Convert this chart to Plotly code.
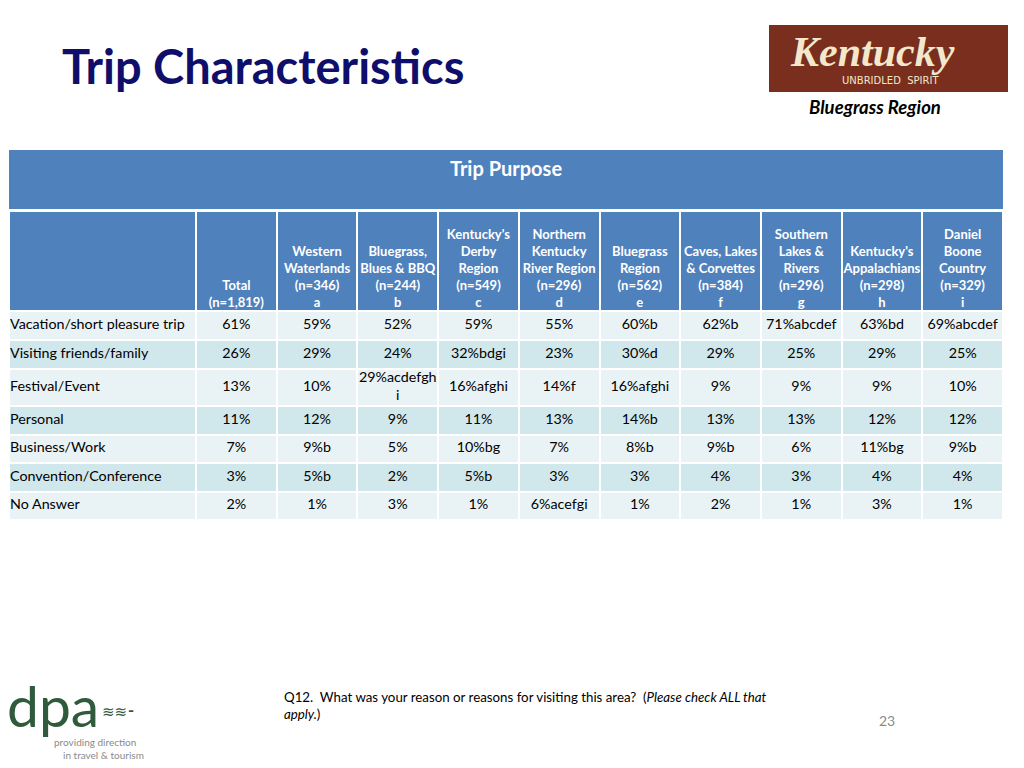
import plotly.graph_objects as go

W, H = 1024, 768

# ---- data ----
purposes = ["Vacation/short pleasure trip", "Visiting friends/family", "Festival/Event",
            "Personal", "Business/Work", "Convention/Conference", "No Answer"]

header_names = [
    ["Total"],
    ["Western", "Waterlands"],
    ["Bluegrass,", "Blues & BBQ"],
    ["Kentucky's", "Derby", "Region"],
    ["Northern", "Kentucky", "River Region"],
    ["Bluegrass", "Region"],
    ["Caves, Lakes", "& Corvettes"],
    ["Southern", "Lakes &", "Rivers"],
    ["Kentucky's", "Appalachians"],
    ["Daniel", "Boone", "Country"],
]
sample_sizes = ["1,819", "346", "244", "549", "296", "562", "384", "296", "298", "329"]
group_letters = ["", "a", "b", "c", "d", "e", "f", "g", "h", "i"]

total = [61, 26, 13, 11, 7, 3, 2]
western = [59, 29, 10, 12, 9, 5, 1]
bluegrass_bbq = [52, 24, 29, 9, 5, 2, 3]
derby = [59, 32, 16, 11, 10, 5, 1]
northern_ky = [55, 23, 14, 13, 7, 3, 6]
bluegrass_region = [60, 30, 16, 14, 8, 3, 1]
caves_lakes = [62, 29, 9, 13, 9, 4, 2]
southern_lakes = [71, 25, 9, 13, 6, 3, 1]
appalachians = [63, 29, 9, 12, 11, 4, 3]
daniel_boone = [69, 25, 10, 12, 9, 4, 1]

# significance letters per column
sig_total = ["", "", "", "", "", "", ""]
sig_western = ["", "", "", "", "b", "b", ""]
sig_bluegrass_bbq = ["", "", "acdefghi", "", "", "", ""]
sig_derby = ["", "bdgi", "afghi", "", "bg", "b", ""]
sig_northern_ky = ["", "", "f", "", "", "", "acefgi"]
sig_bluegrass_region = ["b", "d", "afghi", "b", "b", "", ""]
sig_caves_lakes = ["b", "", "", "", "b", "", ""]
sig_southern_lakes = ["abcdef", "", "", "", "", "", ""]
sig_appalachians = ["bd", "", "", "", "bg", "", ""]
sig_daniel_boone = ["abcdef", "", "", "", "b", "", ""]

values = [total, western, bluegrass_bbq, derby, northern_ky, bluegrass_region,
          caves_lakes, southern_lakes, appalachians, daniel_boone]
sigs = [sig_total, sig_western, sig_bluegrass_bbq, sig_derby, sig_northern_ky,
        sig_bluegrass_region, sig_caves_lakes, sig_southern_lakes, sig_appalachians,
        sig_daniel_boone]

# ---- table geometry (page pixels) ----
label_w = 187
col_w = (1003 - 196) / len(values)
x_edges = [9, 9 + label_w] + [196 + col_w * (i + 1) for i in range(len(values))]
x_centers = [(a + b) / 2 for a, b in zip(x_edges[1:-1], x_edges[2:])]
row_h = [29.5, 28.5, 37.5, 28.5, 28.5, 28.5, 28.5]
y_edges = [211, 310.5]
for h in row_h:
    y_edges.append(y_edges[-1] + h)
y_centers = [(a + b) / 2 for a, b in zip(y_edges[1:-1], y_edges[2:])]

blue, light, dark = "#4F81BD", "#E9F3F5", "#D0E7EC"
font_family = "Lato, 'Open Sans', sans-serif"


def cell_text(v, s):
    t = f"{v}%{s}"
    if len(t) > 10:
        t = t[:10] + "<br>" + t[10:]
    return t


fig = go.Figure()

# cell fills: 0 = header blue, 1 = light row, 2 = dark row
z = [[0] * (len(values) + 1)] + [[1 + i % 2] * (len(values) + 1) for i in range(len(purposes))]
scale = [[0, blue], [0.5, light], [1, dark]]
fig.add_trace(go.Heatmap(x=[9, 1003], y=[150, 208.5], z=[[0]], colorscale=scale, zmin=0, zmax=2,
                         showscale=False, hoverinfo="skip"))
fig.add_trace(go.Heatmap(x=x_edges, y=y_edges, z=z, colorscale=scale, zmin=0, zmax=2,
                         xgap=2, ygap=2, showscale=False, hoverinfo="skip"))

fig.add_trace(go.Scatter(x=[506], y=[170.5], mode="text", text=["<b>Trip Purpose</b>"],
                         textposition="middle center", hoverinfo="skip",
                         textfont=dict(size=20, color="white", family=font_family)))

headers = []
for names, n, letter in zip(header_names, sample_sizes, group_letters):
    lines = names + [f"(n={n})"] + ([letter] if letter else [])
    headers.append("<br>".join(f"<b>{l}</b>" for l in lines))
fig.add_trace(go.Scatter(x=x_centers, y=[310] * len(headers), mode="text", text=headers,
                         textposition="top center", hoverinfo="skip",
                         textfont=dict(size=13, color="white", family=font_family)))

fig.add_trace(go.Scatter(x=[10] * len(purposes), y=y_centers, mode="text", text=purposes,
                         textposition="middle right", hoverinfo="skip",
                         textfont=dict(size=14.3, color="black", family=font_family)))

cx, cy, ct = [], [], []
for xc, col, sg in zip(x_centers, values, sigs):
    for yc, v, s in zip(y_centers, col, sg):
        cx.append(xc)
        cy.append(yc)
        ct.append(cell_text(v, s))
fig.add_trace(go.Scatter(x=cx, y=cy, mode="text", text=ct, textposition="middle center",
                         hoverinfo="skip",
                         textfont=dict(size=14.3, color="black", family=font_family)))

shapes = [
    # Kentucky logo panel
    dict(type="rect", xref="x", yref="y", x0=769, x1=1008, y0=25, y1=92,
         fillcolor="#7A2E1D", line=dict(width=0), layer="below"),
]

annotations = [
    dict(text="<b>Trip Characteristics</b>", x=60, y=66, xanchor="left", yanchor="middle",
         font=dict(size=47, color="#0F0F6B", family=font_family)),
    dict(text="<i><b>Kentucky</b></i>", x=872, y=52, xanchor="center", yanchor="middle",
         font=dict(size=42, color="#F3E7CC", family="'Liberation Serif', serif")),
    dict(text="UNBRIDLED  SPIRIT", x=890, y=80, xanchor="center", yanchor="middle",
         font=dict(size=10, color="#F3E7CC", family="'DejaVu Sans', sans-serif")),
    dict(text="<b><i>Bluegrass Region</i></b>", x=875, y=107, xanchor="center", yanchor="middle",
         font=dict(size=18.5, color="black", family=font_family)),
    dict(text="dpa", x=5, y=705, xanchor="left", yanchor="middle",
         font=dict(size=57, color="#2F5B3C", family=font_family)),
    dict(text="≋≋⁃", x=100, y=712, xanchor="left", yanchor="middle",
         font=dict(size=15, color="#2F5B3C", family="'DejaVu Sans', sans-serif")),
    dict(text="providing direction", x=52, y=742, xanchor="left", yanchor="middle",
         font=dict(size=10, color="#8A8A8A", family=font_family)),
    dict(text="in travel & tourism", x=61, y=755, xanchor="left", yanchor="middle",
         font=dict(size=10, color="#8A8A8A", family=font_family)),
    dict(text="Q12.  What was your reason or reasons for visiting this area?  (<i>Please check ALL that</i><br><i>apply.</i>)",
         x=282, y=705.5, xanchor="left", yanchor="middle", align="left",
         font=dict(size=13.3, color="black", family=font_family)),
    dict(text="23", x=887, y=720, xanchor="center", yanchor="middle",
         font=dict(size=14, color="#8A8A8A", family=font_family)),
]
for a in annotations:
    a.update(xref="x", yref="y", showarrow=False)

fig.update_xaxes(range=[0, W], visible=False, fixedrange=True)
fig.update_yaxes(range=[H, 0], visible=False, fixedrange=True)
fig.update_layout(
    width=W, height=H,
    margin=dict(l=0, r=0, t=0, b=0),
    paper_bgcolor="white", plot_bgcolor="white",
    shapes=shapes, annotations=annotations,
    showlegend=False,
)

fig.write_html("out.html", config={"displayModeBar": False},
               post_script="document.body.style.margin='0';")
